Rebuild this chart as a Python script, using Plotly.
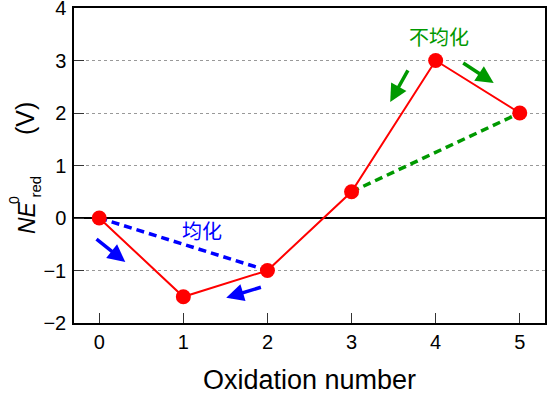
import plotly.graph_objects as go

ox_num = [0, 1, 2, 3, 4, 5]
ne_red = [0, -1.5, -1, 0.5, 3, 2]
comp_x = [0, 2]
comp_y = [0, -1]
disp_x = [3, 5]
disp_y = [0.5, 2]
y_ticks = [-2, -1, 0, 1, 2, 3, 4]

FONT = "Liberation Sans, Arial, sans-serif"
W, H = 547, 395
ML, MR, MT, MB = 74, 2, 8, 72
PW, PH = W - ML - MR, H - MT - MB


def px_to_paper(px, py):
    return (px - ML) / PW, (H - MB - py) / PH


fig = go.Figure()
fig.add_trace(go.Scatter(x=comp_x, y=comp_y, mode="lines",
                         line=dict(color="#0000ff", width=3.5, dash="8px,5px")))
fig.add_trace(go.Scatter(x=disp_x, y=disp_y, mode="lines",
                         line=dict(color="#009900", width=3.5, dash="8px,5px")))
fig.add_trace(go.Scatter(x=ox_num, y=ne_red, mode="lines+markers",
                         line=dict(color="#ff0000", width=2),
                         marker=dict(color="#ff0000", size=15)))

arrows = [
    # (tail_x, tail_y, head_x, head_y, color)
    (-0.05, -0.38, 0.31, -0.84, "#0000ff"),
    (1.94, -1.31, 1.51, -1.52, "#0000ff"),
    (3.68, 2.84, 3.46, 2.21, "#009900"),
    (4.31, 2.97, 4.69, 2.57, "#009900"),
]
for tx, ty, hx, hy, c in arrows:
    fig.add_annotation(x=hx, y=hy, ax=tx, ay=ty, xref="x", yref="y",
                       axref="x", ayref="y", text="", showarrow=True,
                       arrowhead=2, arrowsize=1.0, arrowwidth=3.5, arrowcolor=c)

fig.add_annotation(x=1.22, y=-0.23, xref="x", yref="y", text="均化", showarrow=False,
                   font=dict(family="Noto Sans CJK SC", size=20, color="#0000ff"))
fig.add_annotation(x=4.04, y=3.45, xref="x", yref="y", text="不均化", showarrow=False,
                   font=dict(family="Noto Sans CJK SC", size=20, color="#009900"))

# y-axis title built from pieces (superscript stacked over subscript)
ylabel_parts = [
    ("<i>NE</i>", 26.5, 217.5, 23),
    ("0", 13.5, 200.5, 14),
    ("red", 35, 186.5, 15),
    ("(V)", 25, 119, 25),
]
for txt, px, py, sz in ylabel_parts:
    xp, yp = px_to_paper(px, py)
    fig.add_annotation(x=xp, y=yp, xref="paper", yref="paper", text=txt,
                       showarrow=False, textangle=-90, xanchor="center",
                       yanchor="middle", font=dict(size=sz, family=FONT, color="black"))

fig.update_layout(
    width=W, height=H,
    margin=dict(l=ML, r=MR, t=MT, b=MB),
    paper_bgcolor="white", plot_bgcolor="white",
    showlegend=False,
    font=dict(family=FONT, color="black"),
    xaxis=dict(range=[-0.3, 5.3], tickvals=ox_num, ticks="inside", ticklen=10,
               tickwidth=1, tickcolor="#333", showgrid=False, zeroline=False,
               showline=True, linecolor="black", linewidth=1.5, mirror=True,
               automargin=False,
               tickfont=dict(size=20, family=FONT),
               title=dict(text="Oxidation number", font=dict(size=27, family=FONT), standoff=21)),
    yaxis=dict(range=[-2, 4], tickvals=y_ticks, ticks="inside", ticklen=10, tickwidth=1,
               tickcolor="#333", showgrid=True, gridcolor="#999", griddash="dot",
               gridwidth=1, zeroline=True, zerolinecolor="black", zerolinewidth=1.5,
               showline=True, linecolor="black", linewidth=1.5, mirror=True,
               automargin=False, ticklabeloverflow="allow",
               tickfont=dict(size=20, family=FONT), ticklabelstandoff=2),
)

fig.write_html("out.html", config={"responsive": False, "displayModeBar": False},
               post_script="document.body.style.margin='0';document.body.style.overflow='hidden';")
